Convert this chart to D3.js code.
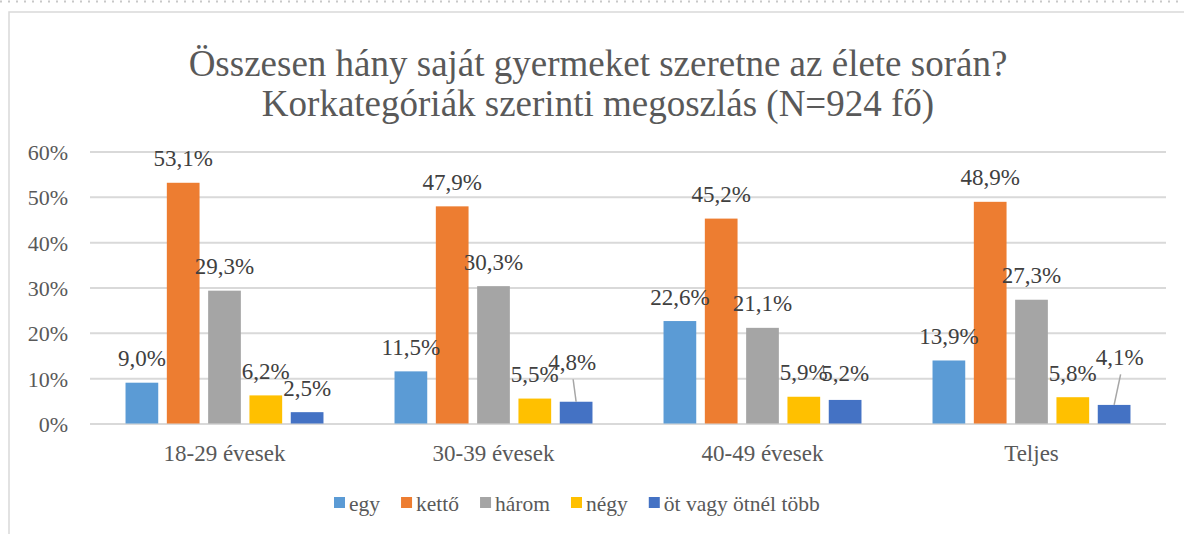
<!DOCTYPE html>
<html>
<head>
<meta charset="utf-8">
<script src="https://cdn.jsdelivr.net/npm/d3@7"></script>
</head>
<body style="margin:0; background:#fff">
<div id="chart-area"></div>
<script>
// chart data (percent values)
var categories = ["18-29 évesek", "30-39 évesek", "40-49 évesek", "Teljes"];
var seriesNames = ["egy", "kettő", "három", "négy", "öt vagy ötnél több"];
var egy = [9.0, 11.5, 22.6, 13.9];
var ketto = [53.1, 47.9, 45.2, 48.9];
var harom = [29.3, 30.3, 21.1, 27.3];
var negy = [6.2, 5.5, 5.9, 5.8];
var ot = [2.5, 4.8, 5.2, 4.1];
var yTicks = [0, 10, 20, 30, 40, 50, 60];

var colors = ["#5B9BD5", "#ED7D31", "#A5A5A5", "#FFC000", "#4472C4"];
var seriesValues = [egy, ketto, harom, negy, ot];
var FONT = "'Liberation Serif', 'Times New Roman', serif";

// labels that were dragged away from the bar in the original (with a leader line)
var nudges = { "4-1": { dx: -4, dy: -15, leader: true }, "4-2": { dx: 0, dy: -2 }, "4-3": { dx: 5.5, dy: -23, leader: true } };

var width = 1184, height = 534;
var svg = d3.select("#chart-area").append("svg")
    .attr("width", width)
    .attr("height", height);

// outer frame
svg.append("line")
    .attr("x1", 0).attr("x2", width).attr("y1", 1.5).attr("y2", 1.5)
    .attr("stroke", "#c8c8c8").attr("stroke-width", 2)
    .attr("stroke-dasharray", "2,6");
svg.append("rect")
    .attr("x", 9).attr("y", 12).attr("width", width).attr("height", height)
    .attr("fill", "none").attr("stroke", "#d9d9d9").attr("stroke-width", 1.5);

// title
var title = svg.append("text")
    .attr("x", 598).attr("y", 76)
    .attr("text-anchor", "middle")
    .attr("fill", "#595959")
    .style("font-family", FONT)
    .style("font-size", "37px");
title.append("tspan").attr("x", 598).text("Összesen hány saját gyermeket szeretne az élete során?");
title.append("tspan").attr("x", 598).attr("dy", 40).text("Korkategóriák szerinti megoszlás (N=924 fő)");

var plotLeft = 90, plotRight = 1166, plotTop = 151.5, plotBottom = 423.5;

var x0 = d3.scaleBand()
    .domain(categories)
    .range([plotLeft, plotRight]);

var x1 = d3.scaleBand()
    .domain(seriesNames)
    .range([0, x0.bandwidth()])
    .paddingInner(0.208)
    .paddingOuter(0.86);

var y = d3.scaleLinear()
    .domain([0, 60])
    .range([plotBottom, plotTop]);

// gridlines + y axis
var yAxis = svg.append("g")
    .attr("transform", "translate(" + plotLeft + ",0)")
    .call(d3.axisLeft(y).tickValues(yTicks)
        .tickSize(-(plotRight - plotLeft))
        .tickPadding(22)
        .tickFormat(d => d + "%"));
yAxis.select(".domain").remove();
yAxis.selectAll("line").attr("stroke", "#d9d9d9").attr("stroke-width", 2);
yAxis.selectAll("text")
    .attr("fill", "#595959")
    .attr("dy", "0.36em")
    .style("font-family", FONT)
    .style("font-size", "22px");

// category axis
var xAxis = svg.append("g")
    .attr("transform", "translate(0," + plotBottom + ")")
    .call(d3.axisBottom(x0).tickSize(0).tickPadding(21));
xAxis.select(".domain").remove();
xAxis.selectAll("text")
    .attr("fill", "#595959")
    .attr("dy", "0.71em")
    .style("font-family", FONT)
    .style("font-size", "23px");

// flatten for drawing
var rows = [];
categories.forEach((c, i) => {
    seriesNames.forEach((s, j) => {
        rows.push({ cat: c, ser: s, si: j, ci: i, value: seriesValues[j][i] });
    });
});

var groups = svg.append("g");
groups.selectAll("rect")
    .data(rows)
    .enter()
    .append("rect")
    .attr("x", d => x0(d.cat) + x1(d.ser))
    .attr("y", d => y(d.value))
    .attr("width", x1.bandwidth())
    .attr("height", d => plotBottom - y(d.value))
    .attr("fill", d => colors[d.si]);

// data labels
var loc = d3.formatLocale({ decimal: ",", thousands: " ", grouping: [3], currency: ["", " Ft"] });
var fmt = loc.format(".1f");

rows.forEach(d => {
    var n = nudges[d.si + "-" + d.ci] || { dx: 0, dy: 0 };
    var cx = x0(d.cat) + x1(d.ser) + x1.bandwidth() / 2;
    var top = y(d.value);
    var lx = cx + n.dx, ly = top - 16.5 + n.dy;
    if (n.leader) {
        svg.append("line")
            .attr("x1", cx).attr("y1", top)
            .attr("x2", lx + 1).attr("y2", ly + 9)
            .attr("stroke", "#a6a6a6").attr("stroke-width", 1.5);
    }
    svg.append("text")
        .attr("x", lx).attr("y", ly)
        .attr("text-anchor", "middle")
        .attr("fill", "#404040")
        .style("font-family", FONT)
        .style("font-size", "23px")
        .text(fmt(d.value) + "%");
});

// legend
var legend = svg.append("g");
var lx = 334;
seriesNames.forEach((s, j) => {
    legend.append("rect")
        .attr("x", lx).attr("y", 497)
        .attr("width", 11).attr("height", 11)
        .attr("fill", colors[j]);
    var t = legend.append("text")
        .attr("x", lx + 15).attr("y", 511)
        .attr("fill", "#595959")
        .style("font-family", FONT)
        .style("font-size", "21.5px")
        .text(s);
    lx = lx + 15 + t.node().getComputedTextLength() + 21;
});
</script>
</body>
</html>
